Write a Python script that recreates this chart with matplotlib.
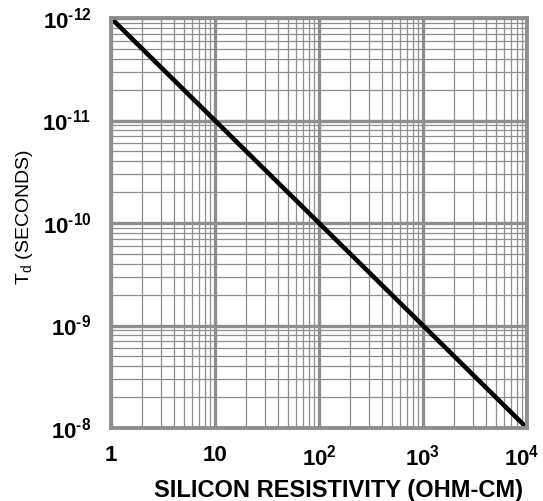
import matplotlib.pyplot as plt
import matplotlib.transforms as mtransforms
from matplotlib.ticker import FixedLocator, NullFormatter

plt.rcParams['font.family'] = ['Liberation Sans', 'DejaVu Sans']

# resistivity (ohm-cm) and dielectric relaxation time Td (s)
rho = [1, 1e4]
td = [1e-12, 1e-8]

x_ticks = [1, 10, 100, 1000, 10000]
x_labels = ['1', '10', r'$\mathregular{10^2}$', r'$\mathregular{10^3}$', r'$\mathregular{10^4}$']
y_ticks = [1e-12, 1e-11, 1e-10, 1e-9, 1e-8]
# plain hyphen in the exponents, as on the printed sheet
y_labels = ['$\\mathregular{10^{\u2010' + e + '}}$' for e in ['12', '11', '10', '9', '8']]

fig = plt.figure(figsize=(5.43, 5.01), dpi=100)
ax = fig.add_axes([0.2044, 0.1457, 0.7661, 0.8183])
ax.set_xscale('log')
ax.set_yscale('log')
ax.set_xlim(1, 1e4)
ax.set_ylim(1e-8, 1e-12)

# log paper: x minor lines at 2..9, y lines crowd toward the top of each decade
x_minor = [k * 10.0**n for n in range(4) for k in range(2, 10)]
y_minor = [10.0**(n + 1) / k for n in range(-12, -8) for k in range(2, 10)]
ax.xaxis.set_major_locator(FixedLocator(x_ticks))
ax.yaxis.set_major_locator(FixedLocator(y_ticks))
ax.xaxis.set_minor_locator(FixedLocator(x_minor))
ax.yaxis.set_minor_locator(FixedLocator(y_minor))
ax.xaxis.set_minor_formatter(NullFormatter())
ax.yaxis.set_minor_formatter(NullFormatter())
ax.set_xticklabels(x_labels)
ax.set_yticklabels(y_labels)

gc = '#8e8e8e'
ax.grid(which='major', color=gc, lw=2.4)
ax.grid(which='minor', color=gc, lw=0.9)
ax.set_axisbelow(True)
for s in ax.spines.values():
    s.set_color(gc)
    s.set_linewidth(2.8)

ax.tick_params(which='both', length=0)
ax.tick_params(axis='x', pad=12, labelsize=16)
ax.tick_params(axis='y', pad=14, labelsize=16)
for t in ax.get_xticklabels() + ax.get_yticklabels():
    t.set_fontweight('bold')

# pull the last x label in a little so it stays inside the figure
last = ax.get_xticklabels()[-1]
last.set_transform(last.get_transform() + mtransforms.ScaledTranslation(-4 / 72, 0, fig.dpi_scale_trans))

ax.plot(rho, td, color='black', lw=3.3, solid_capstyle='butt')

ax.set_xlabel('SILICON RESISTIVITY (OHM-CM)', fontsize=17, fontweight='bold')
ax.xaxis.set_label_coords(0.546, -0.125)
ax.set_ylabel(r'T$_\mathregular{d}$ (SECONDS)', fontsize=14)
ax.yaxis.set_label_coords(-0.183, 0.515)

fig.savefig('out.png', dpi=100)
